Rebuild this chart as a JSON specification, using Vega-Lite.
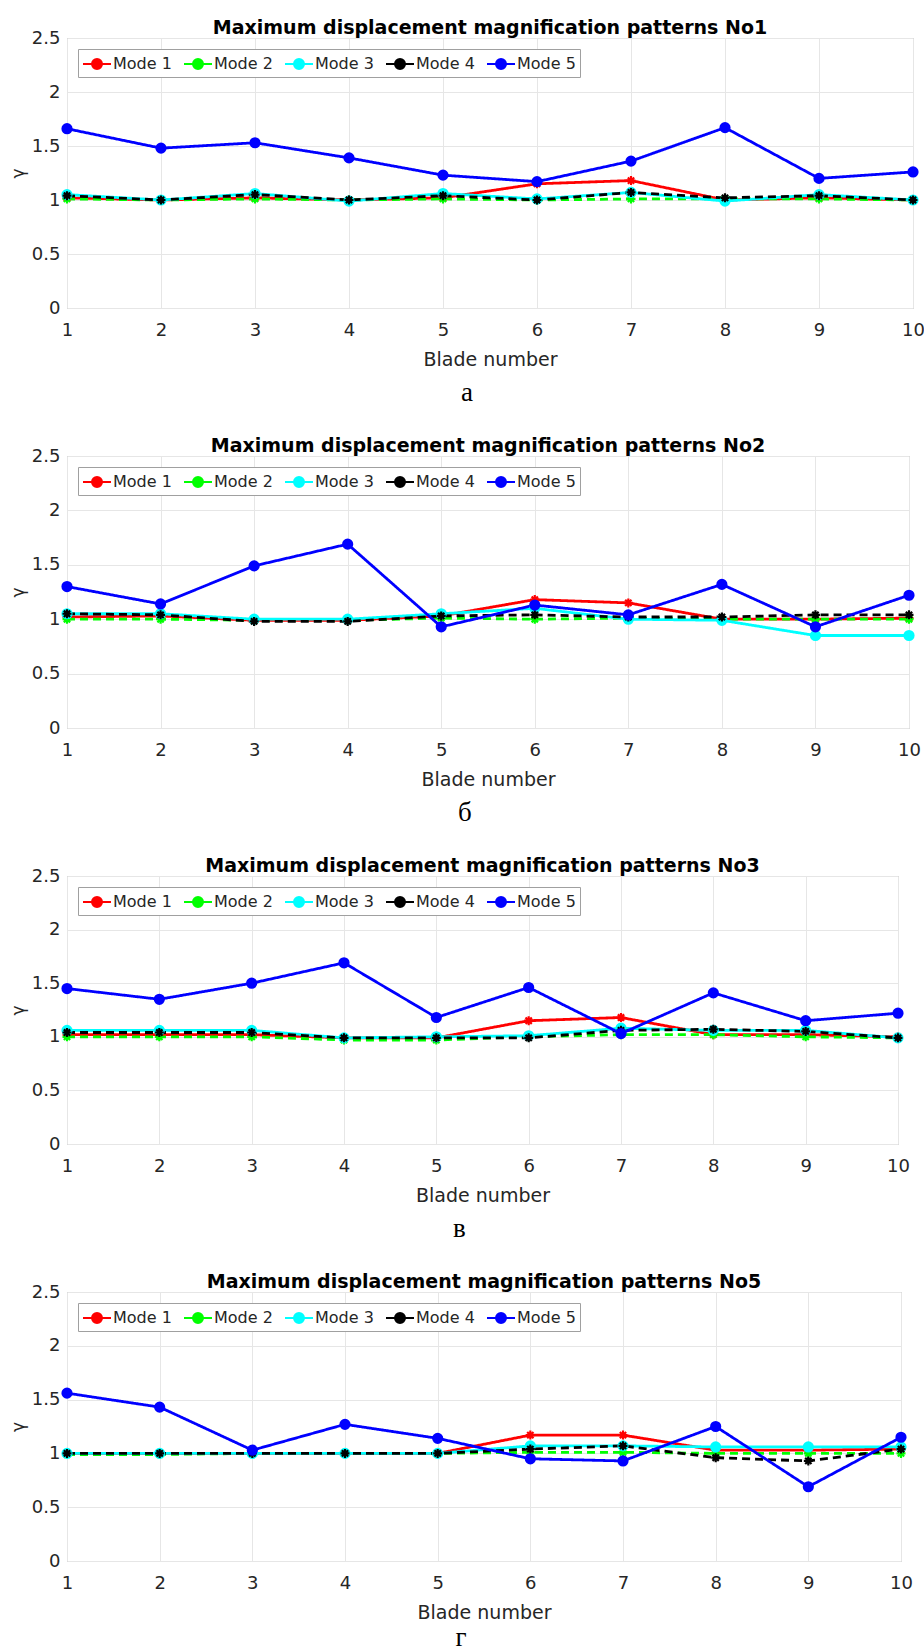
{
"$schema": "https://vega.github.io/schema/vega-lite/v6.json",
"background": "white",
"padding": {"left": 8, "top": 18, "right": 6, "bottom": 0},
"datasets": {"d": [
{"pattern":"No1","mode":"Mode 1","blade":1,"gamma":1.02},{"pattern":"No1","mode":"Mode 1","blade":2,"gamma":1.00},{"pattern":"No1","mode":"Mode 1","blade":3,"gamma":1.02},{"pattern":"No1","mode":"Mode 1","blade":4,"gamma":1.00},{"pattern":"No1","mode":"Mode 1","blade":5,"gamma":1.02},{"pattern":"No1","mode":"Mode 1","blade":6,"gamma":1.15},{"pattern":"No1","mode":"Mode 1","blade":7,"gamma":1.18},{"pattern":"No1","mode":"Mode 1","blade":8,"gamma":1.00},{"pattern":"No1","mode":"Mode 1","blade":9,"gamma":1.02},{"pattern":"No1","mode":"Mode 1","blade":10,"gamma":1.00},
{"pattern":"No1","mode":"Mode 2","blade":1,"gamma":1.01},{"pattern":"No1","mode":"Mode 2","blade":2,"gamma":1.00},{"pattern":"No1","mode":"Mode 2","blade":3,"gamma":1.01},{"pattern":"No1","mode":"Mode 2","blade":4,"gamma":1.00},{"pattern":"No1","mode":"Mode 2","blade":5,"gamma":1.01},{"pattern":"No1","mode":"Mode 2","blade":6,"gamma":1.00},{"pattern":"No1","mode":"Mode 2","blade":7,"gamma":1.01},{"pattern":"No1","mode":"Mode 2","blade":8,"gamma":1.01},{"pattern":"No1","mode":"Mode 2","blade":9,"gamma":1.01},{"pattern":"No1","mode":"Mode 2","blade":10,"gamma":1.00},
{"pattern":"No1","mode":"Mode 3","blade":1,"gamma":1.05},{"pattern":"No1","mode":"Mode 3","blade":2,"gamma":1.00},{"pattern":"No1","mode":"Mode 3","blade":3,"gamma":1.06},{"pattern":"No1","mode":"Mode 3","blade":4,"gamma":0.99},{"pattern":"No1","mode":"Mode 3","blade":5,"gamma":1.06},{"pattern":"No1","mode":"Mode 3","blade":6,"gamma":1.01},{"pattern":"No1","mode":"Mode 3","blade":7,"gamma":1.07},{"pattern":"No1","mode":"Mode 3","blade":8,"gamma":0.99},{"pattern":"No1","mode":"Mode 3","blade":9,"gamma":1.05},{"pattern":"No1","mode":"Mode 3","blade":10,"gamma":1.00},
{"pattern":"No1","mode":"Mode 4","blade":1,"gamma":1.04},{"pattern":"No1","mode":"Mode 4","blade":2,"gamma":1.00},{"pattern":"No1","mode":"Mode 4","blade":3,"gamma":1.05},{"pattern":"No1","mode":"Mode 4","blade":4,"gamma":1.00},{"pattern":"No1","mode":"Mode 4","blade":5,"gamma":1.04},{"pattern":"No1","mode":"Mode 4","blade":6,"gamma":1.00},{"pattern":"No1","mode":"Mode 4","blade":7,"gamma":1.07},{"pattern":"No1","mode":"Mode 4","blade":8,"gamma":1.02},{"pattern":"No1","mode":"Mode 4","blade":9,"gamma":1.04},{"pattern":"No1","mode":"Mode 4","blade":10,"gamma":1.00},
{"pattern":"No1","mode":"Mode 5","blade":1,"gamma":1.66},{"pattern":"No1","mode":"Mode 5","blade":2,"gamma":1.48},{"pattern":"No1","mode":"Mode 5","blade":3,"gamma":1.53},{"pattern":"No1","mode":"Mode 5","blade":4,"gamma":1.39},{"pattern":"No1","mode":"Mode 5","blade":5,"gamma":1.23},{"pattern":"No1","mode":"Mode 5","blade":6,"gamma":1.17},{"pattern":"No1","mode":"Mode 5","blade":7,"gamma":1.36},{"pattern":"No1","mode":"Mode 5","blade":8,"gamma":1.67},{"pattern":"No1","mode":"Mode 5","blade":9,"gamma":1.20},{"pattern":"No1","mode":"Mode 5","blade":10,"gamma":1.26},
{"pattern":"No2","mode":"Mode 1","blade":1,"gamma":1.02},{"pattern":"No2","mode":"Mode 1","blade":2,"gamma":1.03},{"pattern":"No2","mode":"Mode 1","blade":3,"gamma":0.99},{"pattern":"No2","mode":"Mode 1","blade":4,"gamma":0.99},{"pattern":"No2","mode":"Mode 1","blade":5,"gamma":1.03},{"pattern":"No2","mode":"Mode 1","blade":6,"gamma":1.18},{"pattern":"No2","mode":"Mode 1","blade":7,"gamma":1.15},{"pattern":"No2","mode":"Mode 1","blade":8,"gamma":1.00},{"pattern":"No2","mode":"Mode 1","blade":9,"gamma":1.00},{"pattern":"No2","mode":"Mode 1","blade":10,"gamma":1.01},
{"pattern":"No2","mode":"Mode 2","blade":1,"gamma":1.00},{"pattern":"No2","mode":"Mode 2","blade":2,"gamma":1.00},{"pattern":"No2","mode":"Mode 2","blade":3,"gamma":0.99},{"pattern":"No2","mode":"Mode 2","blade":4,"gamma":0.99},{"pattern":"No2","mode":"Mode 2","blade":5,"gamma":1.01},{"pattern":"No2","mode":"Mode 2","blade":6,"gamma":1.00},{"pattern":"No2","mode":"Mode 2","blade":7,"gamma":1.01},{"pattern":"No2","mode":"Mode 2","blade":8,"gamma":1.00},{"pattern":"No2","mode":"Mode 2","blade":9,"gamma":1.00},{"pattern":"No2","mode":"Mode 2","blade":10,"gamma":1.00},
{"pattern":"No2","mode":"Mode 3","blade":1,"gamma":1.05},{"pattern":"No2","mode":"Mode 3","blade":2,"gamma":1.05},{"pattern":"No2","mode":"Mode 3","blade":3,"gamma":1.00},{"pattern":"No2","mode":"Mode 3","blade":4,"gamma":1.00},{"pattern":"No2","mode":"Mode 3","blade":5,"gamma":1.05},{"pattern":"No2","mode":"Mode 3","blade":6,"gamma":1.10},{"pattern":"No2","mode":"Mode 3","blade":7,"gamma":1.00},{"pattern":"No2","mode":"Mode 3","blade":8,"gamma":0.99},{"pattern":"No2","mode":"Mode 3","blade":9,"gamma":0.85},{"pattern":"No2","mode":"Mode 3","blade":10,"gamma":0.85},
{"pattern":"No2","mode":"Mode 4","blade":1,"gamma":1.05},{"pattern":"No2","mode":"Mode 4","blade":2,"gamma":1.04},{"pattern":"No2","mode":"Mode 4","blade":3,"gamma":0.98},{"pattern":"No2","mode":"Mode 4","blade":4,"gamma":0.98},{"pattern":"No2","mode":"Mode 4","blade":5,"gamma":1.03},{"pattern":"No2","mode":"Mode 4","blade":6,"gamma":1.04},{"pattern":"No2","mode":"Mode 4","blade":7,"gamma":1.02},{"pattern":"No2","mode":"Mode 4","blade":8,"gamma":1.02},{"pattern":"No2","mode":"Mode 4","blade":9,"gamma":1.04},{"pattern":"No2","mode":"Mode 4","blade":10,"gamma":1.04},
{"pattern":"No2","mode":"Mode 5","blade":1,"gamma":1.30},{"pattern":"No2","mode":"Mode 5","blade":2,"gamma":1.14},{"pattern":"No2","mode":"Mode 5","blade":3,"gamma":1.49},{"pattern":"No2","mode":"Mode 5","blade":4,"gamma":1.69},{"pattern":"No2","mode":"Mode 5","blade":5,"gamma":0.93},{"pattern":"No2","mode":"Mode 5","blade":6,"gamma":1.13},{"pattern":"No2","mode":"Mode 5","blade":7,"gamma":1.04},{"pattern":"No2","mode":"Mode 5","blade":8,"gamma":1.32},{"pattern":"No2","mode":"Mode 5","blade":9,"gamma":0.93},{"pattern":"No2","mode":"Mode 5","blade":10,"gamma":1.22},
{"pattern":"No3","mode":"Mode 1","blade":1,"gamma":1.02},{"pattern":"No3","mode":"Mode 1","blade":2,"gamma":1.02},{"pattern":"No3","mode":"Mode 1","blade":3,"gamma":1.02},{"pattern":"No3","mode":"Mode 1","blade":4,"gamma":0.99},{"pattern":"No3","mode":"Mode 1","blade":5,"gamma":0.99},{"pattern":"No3","mode":"Mode 1","blade":6,"gamma":1.15},{"pattern":"No3","mode":"Mode 1","blade":7,"gamma":1.18},{"pattern":"No3","mode":"Mode 1","blade":8,"gamma":1.02},{"pattern":"No3","mode":"Mode 1","blade":9,"gamma":1.02},{"pattern":"No3","mode":"Mode 1","blade":10,"gamma":1.00},
{"pattern":"No3","mode":"Mode 2","blade":1,"gamma":1.00},{"pattern":"No3","mode":"Mode 2","blade":2,"gamma":1.00},{"pattern":"No3","mode":"Mode 2","blade":3,"gamma":1.00},{"pattern":"No3","mode":"Mode 2","blade":4,"gamma":0.97},{"pattern":"No3","mode":"Mode 2","blade":5,"gamma":0.97},{"pattern":"No3","mode":"Mode 2","blade":6,"gamma":1.00},{"pattern":"No3","mode":"Mode 2","blade":7,"gamma":1.02},{"pattern":"No3","mode":"Mode 2","blade":8,"gamma":1.02},{"pattern":"No3","mode":"Mode 2","blade":9,"gamma":1.00},{"pattern":"No3","mode":"Mode 2","blade":10,"gamma":0.99},
{"pattern":"No3","mode":"Mode 3","blade":1,"gamma":1.06},{"pattern":"No3","mode":"Mode 3","blade":2,"gamma":1.06},{"pattern":"No3","mode":"Mode 3","blade":3,"gamma":1.06},{"pattern":"No3","mode":"Mode 3","blade":4,"gamma":0.99},{"pattern":"No3","mode":"Mode 3","blade":5,"gamma":1.00},{"pattern":"No3","mode":"Mode 3","blade":6,"gamma":1.01},{"pattern":"No3","mode":"Mode 3","blade":7,"gamma":1.08},{"pattern":"No3","mode":"Mode 3","blade":8,"gamma":1.06},{"pattern":"No3","mode":"Mode 3","blade":9,"gamma":1.06},{"pattern":"No3","mode":"Mode 3","blade":10,"gamma":0.99},
{"pattern":"No3","mode":"Mode 4","blade":1,"gamma":1.04},{"pattern":"No3","mode":"Mode 4","blade":2,"gamma":1.04},{"pattern":"No3","mode":"Mode 4","blade":3,"gamma":1.04},{"pattern":"No3","mode":"Mode 4","blade":4,"gamma":0.99},{"pattern":"No3","mode":"Mode 4","blade":5,"gamma":0.99},{"pattern":"No3","mode":"Mode 4","blade":6,"gamma":0.99},{"pattern":"No3","mode":"Mode 4","blade":7,"gamma":1.06},{"pattern":"No3","mode":"Mode 4","blade":8,"gamma":1.07},{"pattern":"No3","mode":"Mode 4","blade":9,"gamma":1.05},{"pattern":"No3","mode":"Mode 4","blade":10,"gamma":0.99},
{"pattern":"No3","mode":"Mode 5","blade":1,"gamma":1.45},{"pattern":"No3","mode":"Mode 5","blade":2,"gamma":1.35},{"pattern":"No3","mode":"Mode 5","blade":3,"gamma":1.50},{"pattern":"No3","mode":"Mode 5","blade":4,"gamma":1.69},{"pattern":"No3","mode":"Mode 5","blade":5,"gamma":1.18},{"pattern":"No3","mode":"Mode 5","blade":6,"gamma":1.46},{"pattern":"No3","mode":"Mode 5","blade":7,"gamma":1.03},{"pattern":"No3","mode":"Mode 5","blade":8,"gamma":1.41},{"pattern":"No3","mode":"Mode 5","blade":9,"gamma":1.15},{"pattern":"No3","mode":"Mode 5","blade":10,"gamma":1.22},
{"pattern":"No5","mode":"Mode 1","blade":1,"gamma":1.00},{"pattern":"No5","mode":"Mode 1","blade":2,"gamma":1.00},{"pattern":"No5","mode":"Mode 1","blade":3,"gamma":1.00},{"pattern":"No5","mode":"Mode 1","blade":4,"gamma":1.00},{"pattern":"No5","mode":"Mode 1","blade":5,"gamma":1.00},{"pattern":"No5","mode":"Mode 1","blade":6,"gamma":1.17},{"pattern":"No5","mode":"Mode 1","blade":7,"gamma":1.17},{"pattern":"No5","mode":"Mode 1","blade":8,"gamma":1.03},{"pattern":"No5","mode":"Mode 1","blade":9,"gamma":1.03},{"pattern":"No5","mode":"Mode 1","blade":10,"gamma":1.04},
{"pattern":"No5","mode":"Mode 2","blade":1,"gamma":0.99},{"pattern":"No5","mode":"Mode 2","blade":2,"gamma":0.99},{"pattern":"No5","mode":"Mode 2","blade":3,"gamma":1.00},{"pattern":"No5","mode":"Mode 2","blade":4,"gamma":1.00},{"pattern":"No5","mode":"Mode 2","blade":5,"gamma":1.00},{"pattern":"No5","mode":"Mode 2","blade":6,"gamma":1.01},{"pattern":"No5","mode":"Mode 2","blade":7,"gamma":1.01},{"pattern":"No5","mode":"Mode 2","blade":8,"gamma":1.00},{"pattern":"No5","mode":"Mode 2","blade":9,"gamma":1.00},{"pattern":"No5","mode":"Mode 2","blade":10,"gamma":1.00},
{"pattern":"No5","mode":"Mode 3","blade":1,"gamma":1.00},{"pattern":"No5","mode":"Mode 3","blade":2,"gamma":1.00},{"pattern":"No5","mode":"Mode 3","blade":3,"gamma":1.00},{"pattern":"No5","mode":"Mode 3","blade":4,"gamma":1.00},{"pattern":"No5","mode":"Mode 3","blade":5,"gamma":1.00},{"pattern":"No5","mode":"Mode 3","blade":6,"gamma":1.07},{"pattern":"No5","mode":"Mode 3","blade":7,"gamma":1.07},{"pattern":"No5","mode":"Mode 3","blade":8,"gamma":1.06},{"pattern":"No5","mode":"Mode 3","blade":9,"gamma":1.06},{"pattern":"No5","mode":"Mode 3","blade":10,"gamma":1.06},
{"pattern":"No5","mode":"Mode 4","blade":1,"gamma":1.00},{"pattern":"No5","mode":"Mode 4","blade":2,"gamma":1.00},{"pattern":"No5","mode":"Mode 4","blade":3,"gamma":1.00},{"pattern":"No5","mode":"Mode 4","blade":4,"gamma":1.00},{"pattern":"No5","mode":"Mode 4","blade":5,"gamma":1.00},{"pattern":"No5","mode":"Mode 4","blade":6,"gamma":1.04},{"pattern":"No5","mode":"Mode 4","blade":7,"gamma":1.07},{"pattern":"No5","mode":"Mode 4","blade":8,"gamma":0.96},{"pattern":"No5","mode":"Mode 4","blade":9,"gamma":0.93},{"pattern":"No5","mode":"Mode 4","blade":10,"gamma":1.04},
{"pattern":"No5","mode":"Mode 5","blade":1,"gamma":1.56},{"pattern":"No5","mode":"Mode 5","blade":2,"gamma":1.43},{"pattern":"No5","mode":"Mode 5","blade":3,"gamma":1.03},{"pattern":"No5","mode":"Mode 5","blade":4,"gamma":1.27},{"pattern":"No5","mode":"Mode 5","blade":5,"gamma":1.14},{"pattern":"No5","mode":"Mode 5","blade":6,"gamma":0.95},{"pattern":"No5","mode":"Mode 5","blade":7,"gamma":0.93},{"pattern":"No5","mode":"Mode 5","blade":8,"gamma":1.25},{"pattern":"No5","mode":"Mode 5","blade":9,"gamma":0.69},{"pattern":"No5","mode":"Mode 5","blade":10,"gamma":1.15}
]},
"spacing": 30,
"resolve": {"legend": {"color": "independent"}},
"vconcat": [
{"title": {"text": "а", "orient": "bottom", "font": "Liberation Serif", "fontSize": 27, "fontWeight": "normal", "offset": 10},
 "resolve": {"legend": {"color": "independent"}},
 "vconcat": [{
  "width": 846, "height": 270,
  "title": {"text": "Maximum displacement magnification patterns No1"},
  "data": {"name": "d"},
  "transform": [{"filter": "datum.pattern === 'No1'"}],
  "encoding": {
    "x": {"field": "blade", "type": "quantitative", "scale": {"domain": [1, 10], "nice": false, "zero": false}, "axis": {"values": [1,2,3,4,5,6,7,8,9,10], "format": "d", "title": "Blade number"}},
    "y": {"field": "gamma", "type": "quantitative", "scale": {"domain": [0, 2.5], "nice": false}, "axis": {"values": [0,0.5,1,1.5,2,2.5], "format": "~g", "title": "γ"}},
    "color": {"field": "mode", "type": "nominal", "legend": {"encode": {"symbols": {"update": {"stroke": {"scale": "color", "field": "value"}, "fill": {"scale": "color", "field": "value"}}}}}}
  },
  "layer": [
    {"mark": {"type": "line", "strokeWidth": 2.8},
     "encoding": {
       "strokeDash": {"field": "mode", "type": "nominal", "scale": {"domain": ["Mode 1","Mode 2","Mode 3","Mode 4","Mode 5"], "range": [[1,0],[8,5],[1,0],[8,5],[1,0]]}, "legend": null}
     }},
    {"mark": {"type": "point", "filled": true, "opacity": 1, "strokeWidth": 2.2},
     "encoding": {
       "stroke": {"field": "mode", "type": "nominal", "legend": null},
       "shape": {"field": "mode", "type": "nominal", "legend": null},
       "size": {"field": "mode", "type": "nominal", "scale": {"domain": ["Mode 1","Mode 2","Mode 3","Mode 4","Mode 5"], "range": [81, 81, 110, 81, 200]}, "legend": null}
     }}
  ]
 }]
},
{"title": {"text": "б", "orient": "bottom", "font": "Liberation Serif", "fontSize": 27, "fontWeight": "normal", "offset": 10},
 "resolve": {"legend": {"color": "independent"}},
 "vconcat": [{
  "width": 842, "height": 272,
  "title": {"text": "Maximum displacement magnification patterns No2"},
  "data": {"name": "d"},
  "transform": [{"filter": "datum.pattern === 'No2'"}],
  "encoding": {
    "x": {"field": "blade", "type": "quantitative", "scale": {"domain": [1, 10], "nice": false, "zero": false}, "axis": {"values": [1,2,3,4,5,6,7,8,9,10], "format": "d", "title": "Blade number"}},
    "y": {"field": "gamma", "type": "quantitative", "scale": {"domain": [0, 2.5], "nice": false}, "axis": {"values": [0,0.5,1,1.5,2,2.5], "format": "~g", "title": "γ"}},
    "color": {"field": "mode", "type": "nominal", "legend": {"encode": {"symbols": {"update": {"stroke": {"scale": "color", "field": "value"}, "fill": {"scale": "color", "field": "value"}}}}}}
  },
  "layer": [
    {"mark": {"type": "line", "strokeWidth": 2.8},
     "encoding": {
       "strokeDash": {"field": "mode", "type": "nominal", "scale": {"domain": ["Mode 1","Mode 2","Mode 3","Mode 4","Mode 5"], "range": [[1,0],[8,5],[1,0],[8,5],[1,0]]}, "legend": null}
     }},
    {"mark": {"type": "point", "filled": true, "opacity": 1, "strokeWidth": 2.2},
     "encoding": {
       "stroke": {"field": "mode", "type": "nominal", "legend": null},
       "shape": {"field": "mode", "type": "nominal", "legend": null},
       "size": {"field": "mode", "type": "nominal", "scale": {"domain": ["Mode 1","Mode 2","Mode 3","Mode 4","Mode 5"], "range": [81, 81, 110, 81, 200]}, "legend": null}
     }}
  ]
 }]
},
{"title": {"text": "в", "orient": "bottom", "font": "Liberation Serif", "fontSize": 27, "fontWeight": "normal", "offset": 10},
 "resolve": {"legend": {"color": "independent"}},
 "vconcat": [{
  "width": 831, "height": 268,
  "title": {"text": "Maximum displacement magnification patterns No3"},
  "data": {"name": "d"},
  "transform": [{"filter": "datum.pattern === 'No3'"}],
  "encoding": {
    "x": {"field": "blade", "type": "quantitative", "scale": {"domain": [1, 10], "nice": false, "zero": false}, "axis": {"values": [1,2,3,4,5,6,7,8,9,10], "format": "d", "title": "Blade number"}},
    "y": {"field": "gamma", "type": "quantitative", "scale": {"domain": [0, 2.5], "nice": false}, "axis": {"values": [0,0.5,1,1.5,2,2.5], "format": "~g", "title": "γ"}},
    "color": {"field": "mode", "type": "nominal", "legend": {"encode": {"symbols": {"update": {"stroke": {"scale": "color", "field": "value"}, "fill": {"scale": "color", "field": "value"}}}}}}
  },
  "layer": [
    {"mark": {"type": "line", "strokeWidth": 2.8},
     "encoding": {
       "strokeDash": {"field": "mode", "type": "nominal", "scale": {"domain": ["Mode 1","Mode 2","Mode 3","Mode 4","Mode 5"], "range": [[1,0],[8,5],[1,0],[8,5],[1,0]]}, "legend": null}
     }},
    {"mark": {"type": "point", "filled": true, "opacity": 1, "strokeWidth": 2.2},
     "encoding": {
       "stroke": {"field": "mode", "type": "nominal", "legend": null},
       "shape": {"field": "mode", "type": "nominal", "legend": null},
       "size": {"field": "mode", "type": "nominal", "scale": {"domain": ["Mode 1","Mode 2","Mode 3","Mode 4","Mode 5"], "range": [81, 81, 110, 81, 200]}, "legend": null}
     }}
  ]
 }]
},
{"title": {"text": "г", "orient": "bottom", "font": "Liberation Serif", "fontSize": 27, "fontWeight": "normal", "offset": 2},
 "resolve": {"legend": {"color": "independent"}},
 "vconcat": [{
  "width": 834, "height": 269,
  "title": {"text": "Maximum displacement magnification patterns No5"},
  "data": {"name": "d"},
  "transform": [{"filter": "datum.pattern === 'No5'"}],
  "encoding": {
    "x": {"field": "blade", "type": "quantitative", "scale": {"domain": [1, 10], "nice": false, "zero": false}, "axis": {"values": [1,2,3,4,5,6,7,8,9,10], "format": "d", "title": "Blade number"}},
    "y": {"field": "gamma", "type": "quantitative", "scale": {"domain": [0, 2.5], "nice": false}, "axis": {"values": [0,0.5,1,1.5,2,2.5], "format": "~g", "title": "γ"}},
    "color": {"field": "mode", "type": "nominal", "legend": {"encode": {"symbols": {"update": {"stroke": {"scale": "color", "field": "value"}, "fill": {"scale": "color", "field": "value"}}}}}}
  },
  "layer": [
    {"mark": {"type": "line", "strokeWidth": 2.8},
     "encoding": {
       "strokeDash": {"field": "mode", "type": "nominal", "scale": {"domain": ["Mode 1","Mode 2","Mode 3","Mode 4","Mode 5"], "range": [[1,0],[8,5],[1,0],[8,5],[1,0]]}, "legend": null}
     }},
    {"mark": {"type": "point", "filled": true, "opacity": 1, "strokeWidth": 2.2},
     "encoding": {
       "stroke": {"field": "mode", "type": "nominal", "legend": null},
       "shape": {"field": "mode", "type": "nominal", "legend": null},
       "size": {"field": "mode", "type": "nominal", "scale": {"domain": ["Mode 1","Mode 2","Mode 3","Mode 4","Mode 5"], "range": [81, 81, 110, 81, 200]}, "legend": null}
     }}
  ]
 }]
}
],
"config": {
  "font": "DejaVu Sans",
  "view": {"stroke": "#a6a6a6", "strokeWidth": 1},
  "range": {
    "category": ["#ff0000", "#00ff00", "#00ffff", "#000000", "#0000ff"],
    "symbol": ["M-1,0H1M0,-1V1M-0.7,-0.7L0.7,0.7M-0.7,0.7L0.7,-0.7", "M-1,0H1M0,-1V1M-0.7,-0.7L0.7,0.7M-0.7,0.7L0.7,-0.7", "circle", "M-1,0H1M0,-1V1M-0.7,-0.7L0.7,0.7M-0.7,0.7L0.7,-0.7", "circle"]
  },
  "title": {"font": "DejaVu Sans", "fontSize": 19, "fontWeight": "bold", "color": "#000000", "offset": -9, "anchor": "middle"},
  "axis": {"labelFont": "DejaVu Sans", "labelFontSize": 18, "labelColor": "#262626", "titleFont": "DejaVu Sans", "titleFontSize": 19, "titleFontWeight": "normal", "titleColor": "#262626", "gridColor": "#e6e6e6", "ticks": false, "domain": false, "labelFlush": false},
  "axisX": {"labelPadding": 13, "titlePadding": 11},
  "axisY": {"labelPadding": 7, "titlePadding": 4, "titleFontSize": 17},
  "legend": {"orient": "top-left", "offset": 11, "direction": "horizontal", "columns": 5, "padding": 4, "fillColor": "white", "strokeColor": "#a0a0a0", "title": null, "symbolType": "M-1,0H-0.1M0.9,0H1.8M-0.1,0A0.5,0.5,0,1,1,0.9,0A0.5,0.5,0,1,1,-0.1,0Z", "symbolSize": 400, "symbolStrokeWidth": 2, "symbolOpacity": 1, "labelFont": "DejaVu Sans", "labelFontSize": 16, "labelColor": "#262626", "labelOffset": 9, "columnPadding": 8}
}
}
